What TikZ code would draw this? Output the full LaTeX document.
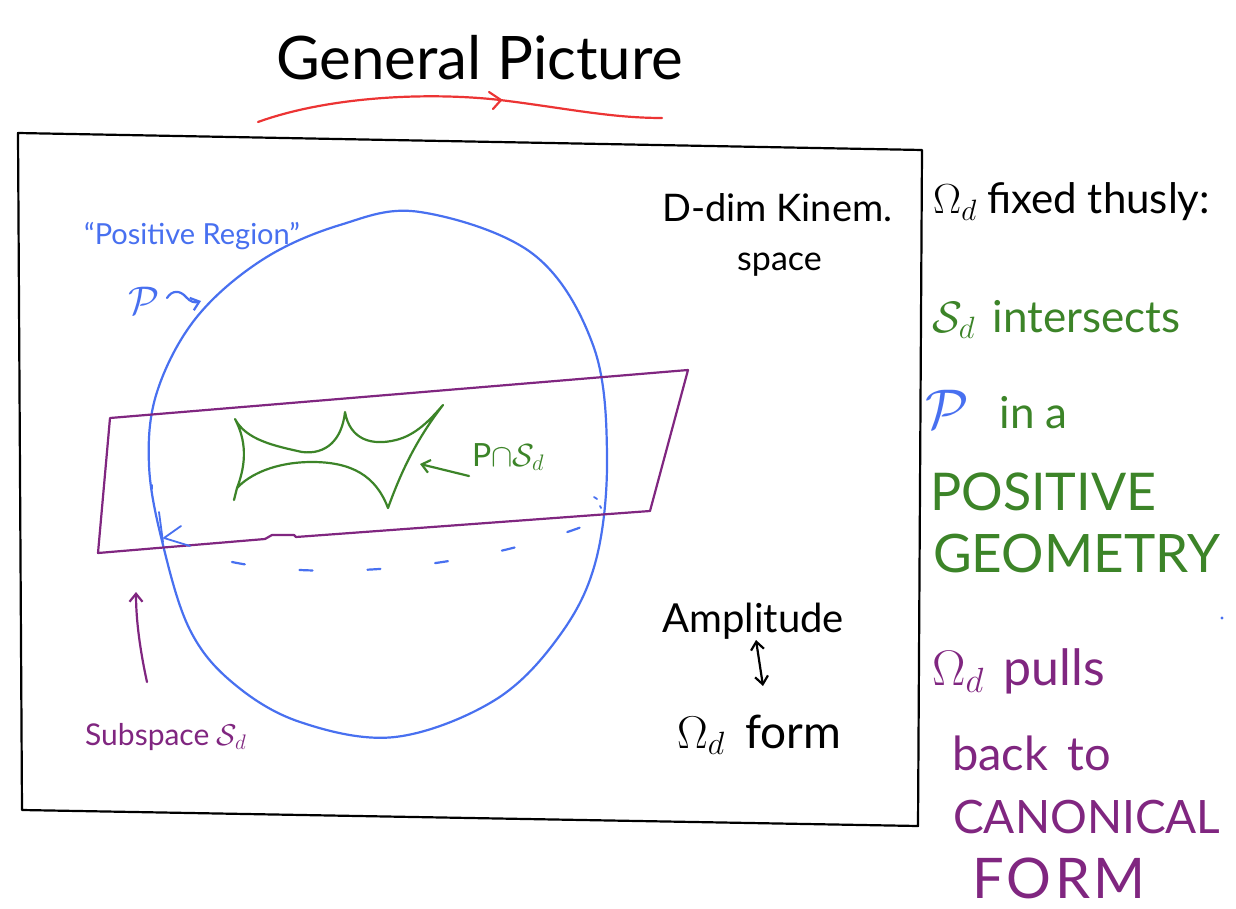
\RequirePackage{fix-cm}
\documentclass[tikz,border=0pt]{standalone}
\usepackage{fontspec}
\setmainfont{Lato}
\usetikzlibrary{arrows.meta}
\definecolor{pblue}{RGB}{72,112,240}
\definecolor{ppurple}{RGB}{128,38,128}
\definecolor{pgreen}{RGB}{60,132,40}
\definecolor{pred}{RGB}{236,52,52}
\begin{document}
\begin{tikzpicture}[x=1pt,y=-1pt,
  pen/.style={line width=2.2pt,line cap=round,line join=round},
  thin pen/.style={line width=1.8pt,line cap=round,line join=round},
  txt/.style={inner sep=0pt,anchor=base west},
  >={Straight Barb[length=8pt,width=13pt]}]
\useasboundingbox (0,0) rectangle (1236,909);
\fill[white] (0,0) rectangle (1236,909);

% title
\node[txt,font=\fontsize{60}{66}\selectfont] (title) at (276,80) {General Picture};
\draw[pen,pred] (258,122) .. controls (330,96) and (430,92) .. (500,100)
  .. controls (565,108) and (610,118) .. (662,118);
\draw[pen,pred] (489,92) -- (501,100) -- (493,109);

% frame
\draw[pen] (18,133) -- (922,150) -- (918,826) -- (22,810) -- cycle;

% positive region
\draw[pen,pblue] plot[smooth cycle,tension=0.6] coordinates {
 (420,212) (533,254) (593,345) (607,455) (596,560) (560,635) (495,700)
 (395,737) (300,722) (233,683) (190,630) (163,545) (149,465) (157,392)
 (196,318) (262,260) (340,225)};

% subspace
\draw[pen,ppurple] (110,418) -- (688,370) -- (650,511) -- (296,537)
  -- (294,535) -- (272,535) -- (265,539) -- (98,553) -- cycle;

% back (hidden) part
\draw[pen,pblue,dash pattern=on 13pt off 55pt,dash phase=0pt]
  (232,562) .. controls (320,580) and (470,572) .. (600,520);
\draw[thin pen,pblue] (594,497) -- (597,499);
\draw[thin pen,pblue] (600,506) -- (601,508);
\draw[thin pen,pblue] (152,485) -- (152,489);
\draw[thin pen,pblue] (159,512) -- (163,542);
\draw[thin pen,pblue] (181,526) -- (164,538) -- (190,546);
\fill[pblue] (1222,618) circle (1.6pt);

% intersection
\draw[pen,pgreen] (235,419)
  .. controls (246,440) and (275,446) .. (302,452)
  .. controls (326,455) and (342,440) .. (345,412)
  .. controls (350,440) and (372,446) .. (396,440)
  .. controls (416,435) and (430,420) .. (443,405)
  .. controls (416,440) and (401,472) .. (388,508)
  .. controls (376,476) and (352,462) .. (312,462)
  .. controls (276,462) and (250,474) .. (237,488)
  .. controls (247,462) and (246,440) .. (235,419);
\draw[pen,pgreen] (237,488) -- (234,500);

\node[txt,pgreen,font=\fontsize{32}{36}\selectfont] (inter) at (472,466)
  {P$\cap\mathcal{S}_d$};
\coordinate (interTip) at (420,464);
\draw[pen,pgreen,->] ([xshift=-3pt,yshift=-10pt]inter.base west) -- (interTip);

% labels inside frame
\node[txt,pblue,font=\fontsize{29}{33}\selectfont] (posreg) at (84,245)
  {“Positive Region”};
\node[txt,pblue,font=\fontsize{40}{44}\selectfont] (pP) at (128,314) {$\mathcal{P}$};
\coordinate (pTail) at (167,298);
\coordinate (pTip) at (201,301);
\draw[pen,pblue,->] (pTail) .. controls (172,290) and (180,290) .. (186,297)
  .. controls (190,302) and (195,303) .. (pTip);

\node[txt,font=\fontsize{38}{42}\selectfont] (kin) at (662,222) {D-dim Kinem.};
\node[txt,font=\fontsize{34}{38}\selectfont] (space) at (737,270) {space};

\node[txt,font=\fontsize{40}{44}\selectfont] (amp) at (662,632) {Amplitude};
\coordinate (u1) at (756,640);
\coordinate (u2) at (763,686);
\draw[pen,<->] (u1) -- (u2);
\node[txt,font=\fontsize{46}{50}\selectfont] (form) at (677,748) {$\Omega_d$\hspace{0.45em}form};

\node[txt,ppurple,font=\fontsize{30}{34}\selectfont] (sub) at (85,745)
  {Subspace $\mathcal{S}_d$};
\coordinate (subTip) at (136,592);
\coordinate (subTail) at (147,682);
\draw[pen,ppurple,->] (subTail) .. controls (140,650) and (136,620) .. (subTip);

% right column
\node[txt,font=\fontsize{42}{46}\selectfont] (fix) at (933,214) {$\Omega_d$ fixed thusly:};
\node[txt,pgreen,font=\fontsize{44}{48}\selectfont] (l1) at (932,332) {$\mathcal{S}_d$\hspace{0.4em}intersects};
\node[txt,pgreen,font=\fontsize{44}{48}\selectfont] (l2) at (925,428)
  {\textcolor{pblue}{\fontsize{56}{60}\selectfont$\mathcal{P}$}\hspace{0.7em}in a};
\node[txt,pgreen,font=\fontsize{52}{56}\selectfont] (l3) at (930,510) {POSITIVE};
\node[txt,pgreen,font=\fontsize{53}{57}\selectfont] (l4) at (933,572) {GEOMETRY};
\node[txt,ppurple,font=\fontsize{50}{54}\selectfont] (l5) at (932,685) {$\Omega_d$\hspace{0.4em}pulls};
\node[txt,ppurple,font=\fontsize{47}{51}\selectfont] (l6) at (952,770) {back\hspace{0.15em} to};
\node[txt,ppurple,font=\fontsize{46}{50}\selectfont] (l7) at (953,833) {CANONICAL};
\node[txt,ppurple,font=\fontsize{56}{60}\selectfont\addfontfeature{LetterSpace=6}] (l8) at (972,898) {FORM};
\end{tikzpicture}
\end{document}
